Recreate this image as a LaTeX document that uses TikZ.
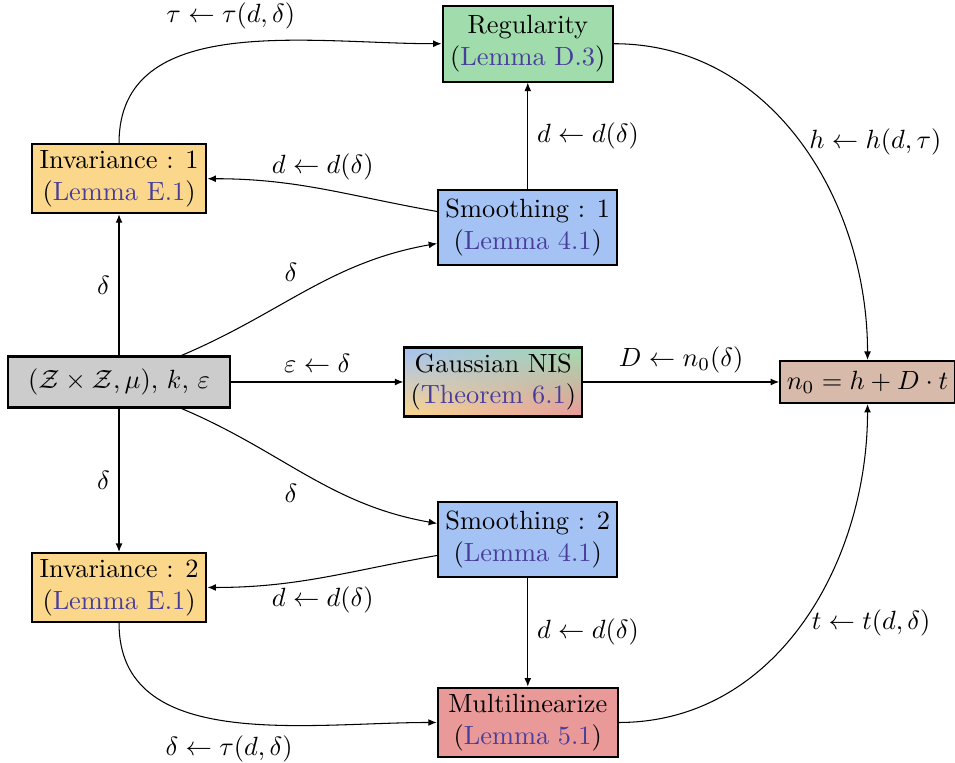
\documentclass[tikz,border=0pt]{standalone}
\usepackage{xcolor}
\usepackage{tikz}
\usetikzlibrary{arrows.meta,positioning,shadings}

\definecolor{srccol}{RGB}{204,204,204}
\definecolor{invcol}{RGB}{251,215,140}
\definecolor{smcol}{RGB}{164,194,244}
\definecolor{regcol}{RGB}{160,220,172}
\definecolor{mulcol}{RGB}{234,153,153}
\definecolor{outcol}{RGB}{216,186,170}
\definecolor{lemcol}{RGB}{72,61,155}

\begin{document}
\begin{tikzpicture}[
  on grid,
  box/.style={draw,thick,align=center,minimum width=2.35cm,minimum height=0.92cm,inner sep=2pt},
  arr/.style={-{Latex[length=3.2pt,width=2.6pt]}}
]
  \useasboundingbox (-1.587,-5.067) rectangle (11.146,5.093);

  \node[box,fill=srccol,minimum width=2.96cm,minimum height=0.68cm] (src) {$(\mathcal{Z}\times\mathcal{Z},\mu)$, $k$, $\varepsilon$};
  \node[box,fill=invcol,above=2.71cm of src,minimum width=2.33cm] (inv1) {Invariance : 1\\(\textcolor{lemcol}{Lemma E.1})};
  \node[box,fill=invcol,below=2.74cm of src,minimum width=2.33cm] (inv2) {Invariance : 2\\(\textcolor{lemcol}{Lemma E.1})};
  \node[box,right=4.99cm of src,minimum width=2.37cm,shade,shading=bilinear interpolation,
        upper left=smcol,upper right=regcol,lower left=invcol,lower right=mulcol] (gauss) {Gaussian NIS\\(\textcolor{lemcol}{Theorem 6.1})};
  \node[box,fill=outcol,right=4.99cm of gauss,minimum width=2.33cm,minimum height=0.56cm] (out) {$n_0 = h + D \cdot t$};
  \node[box,fill=smcol,above right=2.06cm and 5.45cm of src,minimum width=2.39cm,minimum height=1.0cm] (sm1) {Smoothing : 1\\(\textcolor{lemcol}{Lemma 4.1})};
  \node[box,fill=smcol,below right=2.1cm and 5.45cm of src,minimum width=2.39cm,minimum height=0.99cm] (sm2) {Smoothing : 2\\(\textcolor{lemcol}{Lemma 4.1})};
  \node[box,fill=regcol,above=2.45cm of sm1,minimum width=2.27cm,minimum height=1.01cm] (reg) {Regularity\\(\textcolor{lemcol}{Lemma D.3})};
  \node[box,fill=mulcol,below=2.44cm of sm2,minimum width=2.4cm,minimum height=0.93cm] (mul) {Multilinearize\\(\textcolor{lemcol}{Lemma 5.1})};

  \draw[arr] (src) -- node[left] {$\delta$} (inv1);
  \draw[arr] (src) -- node[left] {$\delta$} (inv2);
  \draw[arr] (src) -- node[above] {$\varepsilon \leftarrow \delta$} (gauss);
  \draw[arr] (gauss) -- node[above] {$D \leftarrow n_0(\delta)$} (out);
  \draw[arr] (src) to[out=23,in=190] node[above left] {$\delta$} (sm1);
  \draw[arr] (src) to[out=-23,in=170] node[below left] {$\delta$} (sm2);
  \draw[arr] (sm1) to[out=170,in=0] node[above] {$d \leftarrow d(\delta)$} (inv1);
  \draw[arr] (sm2) to[out=190,in=0] node[below] {$d \leftarrow d(\delta)$} (inv2);
  \draw[arr] (sm1) -- node[right] {$d \leftarrow d(\delta)$} (reg);
  \draw[arr] (sm2) -- node[right] {$d \leftarrow d(\delta)$} (mul);
  \draw[arr] (inv1.north) to[out=90,in=180] node[above,yshift=2pt] {$\tau \leftarrow \tau(d,\delta)$} (reg.west);
  \draw[arr] (inv2.south) to[out=-90,in=180] node[below,yshift=-2pt] {$\delta \leftarrow \tau(d,\delta)$} (mul.west);
  \draw[arr] (reg.east) to[out=0,in=90] node[right] {$h \leftarrow h(d,\tau)$} (out.north);
  \draw[arr] (mul.east) to[out=0,in=-90] node[right] {$t \leftarrow t(d,\delta)$} (out.south);
\end{tikzpicture}
\end{document}
